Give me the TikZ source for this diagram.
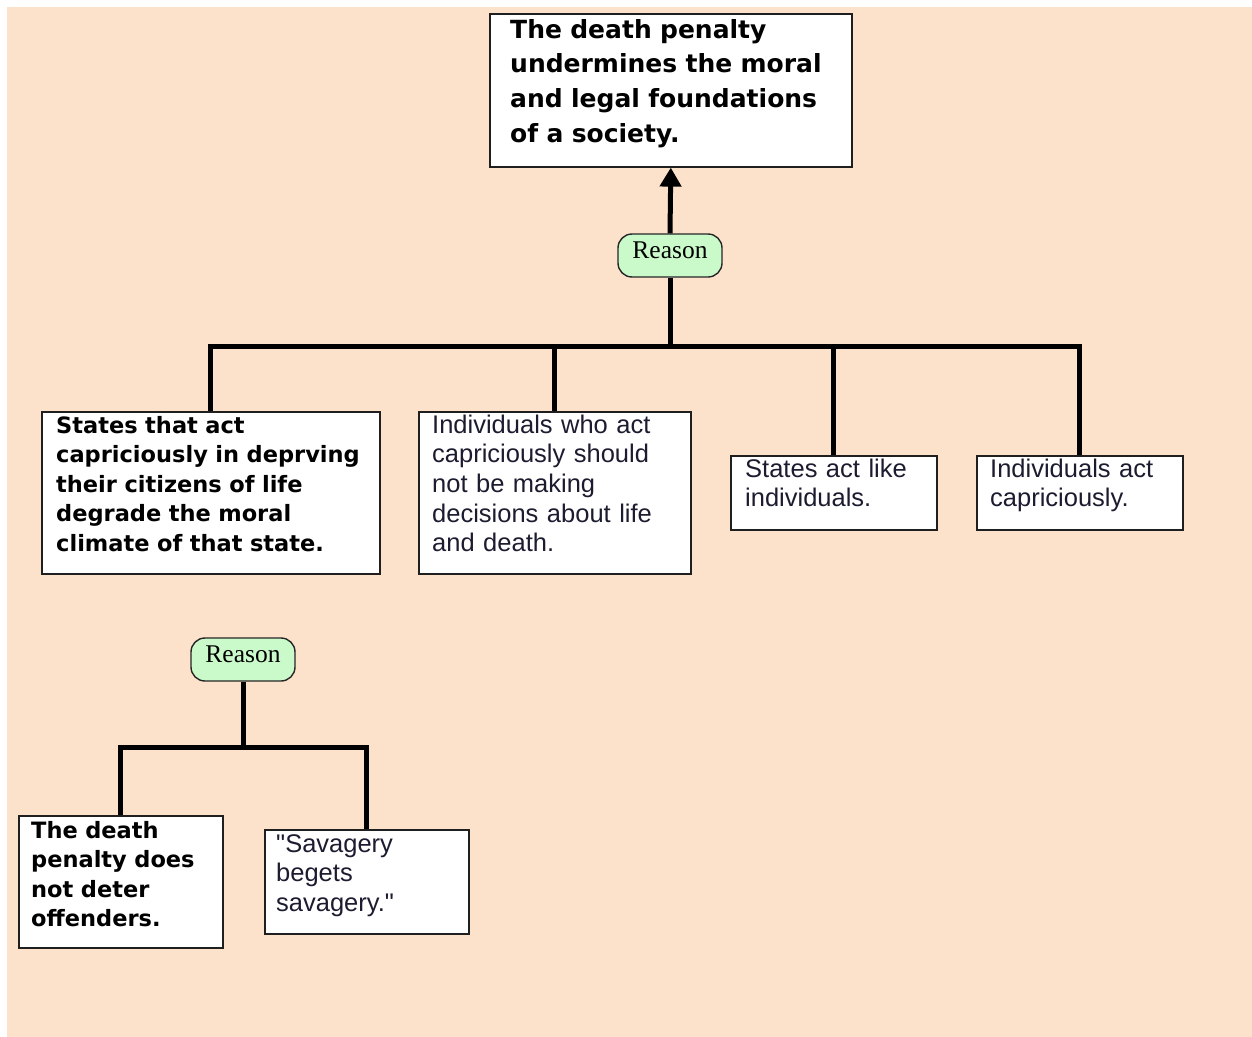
\documentclass[tikz,border=0pt]{standalone}
\usepackage{fontspec}
\setmainfont{Liberation Sans}
\newfontfamily\plainsans{Liberation Sans}
\newfontfamily\boldsans{DejaVu Sans}
\newfontfamily\serifrm{Liberation Serif}
\usetikzlibrary{arrows.meta}

\definecolor{paper}{RGB}{252,226,203}
\definecolor{reasonfill}{RGB}{202,250,202}
\definecolor{plainink}{RGB}{28,28,48}

\tikzset{
  framebox/.style={draw=black!88, line width=1.6pt, fill=white, inner sep=0pt,
                   anchor=north west},
  reasonbox/.style={draw=black!85, line width=1.4pt, fill=reasonfill,
                    rounded corners=14pt, minimum width=104pt, minimum height=43pt,
                    inner sep=0pt, text height=17pt, text depth=11pt,
                    font=\serifrm\fontsize{25.5}{30}\selectfont},
  headtxt/.style={anchor=base west, inner sep=0pt, text width=340pt, align=left,
                  font=\boldsans\bfseries\fontsize{25}{34.7}\selectfont},
  boldtxt/.style={anchor=base west, inner sep=0pt, text width=330pt, align=left,
                  font=\boldsans\bfseries\fontsize{22.5}{29.6}\selectfont},
  plaintxt/.style={anchor=base west, inner sep=0pt, text width=300pt, align=left,
                   text=plainink, font=\plainsans\fontsize{25.5}{29.7}\selectfont},
  conn/.style={line width=5pt, line join=miter, draw=black},
}

\begin{document}
\begin{tikzpicture}[x=1pt,y=-1pt]
  \useasboundingbox (0,0) rectangle (1252,1036);
  \fill[white] (-5,-5) rectangle (1260,1045);
  \fill[paper] (7,7) rectangle (1260,1045);

  % --- upper argument tree ---
  \node[framebox, minimum width=362pt, minimum height=153pt] (top) at (489,13) {};
  \node[headtxt] (toptxt) at (510,38)
    {The death penalty\\undermines the moral\\and legal foundations\\of a society.};

  \node[reasonbox] (r1) at (670,255.5) {Reason};

  \node[framebox, minimum width=338pt, minimum height=162pt] (b1) at (41,411) {};
  \node[boldtxt] (b1txt) at (56,433)
    {States that act\\capriciously in deprving\\their citizens of life\\degrade the moral\\climate of that state.};

  \node[framebox, minimum width=272pt, minimum height=162pt] (b2) at (418,411) {};
  \node[plaintxt] (b2txt) at (432,433)
    {Individuals who act\\capriciously should\\not be making\\decisions about life\\and death.};

  \node[framebox, minimum width=206pt, minimum height=74pt] (b3) at (730,455) {};
  \node[plaintxt] (b3txt) at (745,477) {States act like\\individuals.};

  \node[framebox, minimum width=206pt, minimum height=74pt] (b4) at (976,455) {};
  \node[plaintxt] (b4txt) at (990,477) {Individuals act\\capriciously.};

  \coordinate (bar1) at (0,346);
  \draw[conn] (b1.north) -- (b1.north |- bar1) -- (b4.north |- bar1) -- (b4.north);
  \draw[conn] (b2.north) -- (b2.north |- bar1);
  \draw[conn] (b3.north) -- (b3.north |- bar1);
  \draw[conn] (r1.south) -- (r1.south |- bar1);
  \draw[conn, -{Triangle[length=19pt, width=21pt]}] (r1.north) -- (top.south);

  % --- lower argument tree ---
  \node[reasonbox] (r2) at (243,659.5) {Reason};

  \node[framebox, minimum width=204pt, minimum height=132pt] (b5) at (18,815) {};
  \node[boldtxt] (b5txt) at (31,838)
    {The death\\penalty does\\not deter\\offenders.};

  \node[framebox, minimum width=204pt, minimum height=104pt] (b6) at (264,829) {};
  \node[plaintxt] (b6txt) at (276,852)
    {"Savagery\\begets\\savagery."};

  \coordinate (bar2) at (0,747);
  \draw[conn] (b5.north) -- (b5.north |- bar2) -- (b6.north |- bar2) -- (b6.north);
  \draw[conn] (r2.south) -- (r2.south |- bar2);
\end{tikzpicture}
\end{document}
